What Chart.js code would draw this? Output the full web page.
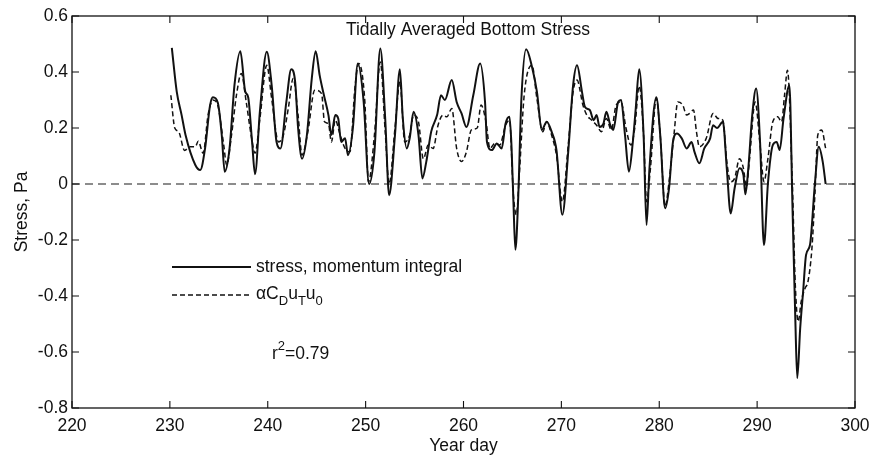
<!DOCTYPE html>
<html lang="en">
<head>
<meta charset="UTF-8">
<title>Tidally Averaged Bottom Stress</title>
<script src="https://cdn.jsdelivr.net/npm/chart.js"></script>
<style>
    body { margin: 0; background: #fff; }
    canvas { display: block; }
</style>
</head>
<body>
<canvas id="stressChart" width="873" height="457"></canvas>
<script>
// stress from momentum integral (solid)
var stressDays = [230.2, 230.7, 231.2, 231.6, 232.6, 233.1, 233.6, 234.1, 234.4, 234.9,
    235.3, 235.6, 236.1, 236.6, 237.2, 237.7, 238.0, 238.4, 238.7, 239.2,
    239.9, 240.4, 240.9, 241.3, 241.9, 242.4, 242.8, 243.1, 243.5, 244.0,
    244.5, 244.9, 245.3, 245.7, 246.2, 246.5, 246.9, 247.2, 247.5, 247.9,
    248.2, 248.7, 249.2, 249.8, 250.35, 250.9, 251.5, 252.0, 252.4, 253.0,
    253.5, 253.8, 254.2, 254.5, 254.9, 255.4, 255.8, 256.2, 256.7, 257.3,
    257.7, 258.1, 258.8, 259.3, 259.8, 260.3, 261.0, 261.7, 262.2, 262.4,
    262.9, 263.4, 263.9, 264.3, 264.7, 264.9, 265.1, 265.3, 265.6, 265.9,
    266.4, 267.0, 267.5, 268.0, 268.5, 269.0, 269.5, 270.1, 270.7, 271.2,
    271.6, 272.1, 272.4, 272.9, 273.3, 273.6, 273.9, 274.3, 274.6, 275.0,
    275.3, 275.8, 276.1, 276.5, 276.9, 277.3, 277.6, 277.95, 278.4, 278.7,
    279.0, 279.7, 280.1, 280.6, 281.0, 281.4, 281.8, 282.3, 282.8, 283.3,
    283.6, 284.1, 284.6, 285.2, 285.5, 285.9, 286.5, 286.9, 287.3, 287.7,
    288.2, 288.6, 288.8, 289.1, 289.5, 289.9, 290.3, 290.7, 291.1, 291.6,
    292.0, 292.3, 292.7, 293.3, 293.6, 293.9, 294.1, 294.4, 294.7, 295.0,
    295.4, 295.9, 296.3, 296.7, 297.0];
var stressVals = [0.486, 0.33, 0.246, 0.175, 0.068, 0.05, 0.128, 0.28, 0.31, 0.29,
    0.175, 0.044, 0.128, 0.353, 0.474, 0.33, 0.31, 0.15, 0.035, 0.26,
    0.472, 0.353, 0.15, 0.127, 0.293, 0.41, 0.365, 0.2, 0.09, 0.175,
    0.377, 0.474, 0.389, 0.323, 0.246, 0.175, 0.246, 0.234, 0.15, 0.163,
    0.103, 0.2, 0.43, 0.293, 0.0, 0.115, 0.484, 0.234, -0.04, 0.175,
    0.41, 0.234, 0.127, 0.163, 0.258, 0.175, 0.02, 0.08, 0.187, 0.246,
    0.317, 0.3, 0.371, 0.293, 0.252, 0.204, 0.317, 0.43, 0.293, 0.15,
    0.121, 0.145, 0.127, 0.216, 0.24, 0.139, -0.063, -0.235, -0.04, 0.293,
    0.481, 0.418, 0.33, 0.193, 0.222, 0.187, 0.121, -0.11, 0.115, 0.353,
    0.424, 0.33, 0.276, 0.264, 0.228, 0.246, 0.204, 0.216, 0.258, 0.21,
    0.193, 0.293, 0.3, 0.175, 0.044, 0.15, 0.27, 0.41, 0.175, -0.146,
    0.056, 0.31, 0.175, -0.087, -0.015, 0.15, 0.18, 0.163, 0.127, 0.15,
    0.115, 0.074, 0.127, 0.163, 0.21, 0.2, 0.222, 0.056, -0.105, -0.015,
    0.056, 0.032, -0.037, 0.056, 0.246, 0.341, 0.15, -0.218, 0.0, 0.139,
    0.15, 0.121, 0.234, 0.353, -0.063, -0.479, -0.693, -0.515, -0.384, -0.253,
    -0.218, 0.0, 0.133, 0.08, 0.0];

// alpha C_D u_T u_0 (dashed)
var modelDays = [230.1, 230.5, 230.9, 231.5, 232.1, 232.6, 232.9, 233.4, 233.9, 234.4,
    234.9, 235.5, 235.8, 236.3, 236.8, 237.3, 237.8, 238.3, 238.7, 239.2,
    239.9, 240.4, 241.1, 241.6, 242.1, 242.6, 243.1, 243.5, 244.1, 244.8,
    245.5, 245.8, 246.2, 246.5, 246.9, 247.4, 247.9, 248.4, 248.9, 249.3,
    249.9, 250.3, 250.9, 251.5, 252.0, 252.4, 253.0, 253.5, 254.0, 254.5,
    254.9, 255.4, 255.9, 256.4, 256.9, 257.4, 257.9, 258.3, 258.8, 259.3,
    259.8, 260.3, 260.8, 261.4, 261.8, 262.3, 262.7, 263.2, 263.7, 264.3,
    264.7, 265.1, 265.4, 265.7, 266.2, 267.0, 267.5, 268.1, 268.5, 269.0,
    269.5, 270.1, 270.7, 271.2, 271.6, 272.2, 272.6, 273.1, 273.6, 274.1,
    274.6, 275.1, 275.6, 276.1, 276.6, 277.1, 277.5, 277.95, 278.4, 278.7,
    279.1, 279.7, 280.1, 280.6, 281.0, 281.5, 281.9, 282.4, 282.8, 283.1,
    283.5, 283.8, 284.1, 284.8, 285.5, 286.0, 286.5, 286.9, 287.3, 287.7,
    288.2, 288.6, 288.9, 289.2, 289.8, 290.3, 290.7, 291.1, 291.6, 292.1,
    292.5, 292.8, 293.1, 293.6, 293.9, 294.2, 294.5, 294.9, 295.2, 295.6,
    295.9, 296.2, 296.6, 297.0];
var modelVals = [0.317, 0.2, 0.187, 0.12, 0.133, 0.133, 0.153, 0.11, 0.246, 0.3,
    0.28, 0.14, 0.068, 0.175, 0.317, 0.395, 0.293, 0.175, 0.11, 0.234,
    0.424, 0.305, 0.15, 0.175, 0.27, 0.377, 0.246, 0.103, 0.187, 0.335,
    0.323, 0.222, 0.216, 0.15, 0.228, 0.175, 0.127, 0.115, 0.341, 0.43,
    0.305, 0.008, 0.175, 0.436, 0.187, 0.0, 0.2, 0.365, 0.15, 0.175,
    0.246, 0.222, 0.09, 0.139, 0.127, 0.21, 0.246, 0.24, 0.27, 0.127,
    0.08, 0.115, 0.193, 0.2, 0.282, 0.222, 0.127, 0.145, 0.139, 0.21,
    0.228, -0.04, -0.11, 0.032, 0.317, 0.424, 0.305, 0.187, 0.222, 0.175,
    0.103, -0.063, 0.139, 0.33, 0.371, 0.282, 0.246, 0.228, 0.21, 0.187,
    0.234, 0.193, 0.282, 0.293, 0.2, 0.139, 0.2, 0.35, 0.175, -0.063,
    0.056, 0.305, 0.175, -0.08, 0.008, 0.175, 0.293, 0.282, 0.246, 0.252,
    0.264, 0.187, 0.133, 0.163, 0.252, 0.234, 0.228, 0.08, 0.008, 0.02,
    0.09, 0.056, -0.01, 0.08, 0.293, 0.139, 0.008, 0.09, 0.222, 0.24,
    0.222, 0.317, 0.406, 0.0, -0.36, -0.491, -0.42, -0.372, -0.348, -0.229,
    -0.04, 0.175, 0.193, 0.127];

var zeroLineDays = [220, 300];
var zeroLineVals = [0, 0];

var xTicks = [220, 230, 240, 250, 260, 270, 280, 290, 300];
var yTicks = [-0.8, -0.6, -0.4, -0.2, 0, 0.2, 0.4, 0.6];

var FONT = "'Liberation Sans', Arial, sans-serif";
var INK = '#111';

function toPoints(days, vals) {
    return days.map(function (d, i) { return { x: d, y: vals[i] }; });
}

// inward ticks, box frame, title and legend text drawn on top
var matlabBox = {
    id: 'matlabBox',
    afterDraw: function (chart) {
        var c = chart.ctx;
        var a = chart.chartArea;
        var xs = chart.scales.x, ys = chart.scales.y;
        c.save();
        c.strokeStyle = INK;
        c.lineWidth = 1.3;
        c.strokeRect(a.left, a.top, a.right - a.left, a.bottom - a.top);

        c.lineWidth = 1.1;
        c.beginPath();
        xTicks.forEach(function (t) {
            var px = xs.getPixelForValue(t);
            c.moveTo(px, a.bottom); c.lineTo(px, a.bottom - 7);
            c.moveTo(px, a.top); c.lineTo(px, a.top + 7);
        });
        yTicks.forEach(function (t) {
            var py = ys.getPixelForValue(t);
            c.moveTo(a.left, py); c.lineTo(a.left + 7, py);
            c.moveTo(a.right, py); c.lineTo(a.right - 7, py);
        });
        c.stroke();

        c.fillStyle = INK;
        c.font = '17.5px ' + FONT;
        c.textBaseline = 'middle';
        c.textAlign = 'center';
        c.fillText('Tidally Averaged Bottom Stress', 468, 30);

        // legend
        c.textAlign = 'left';
        c.lineWidth = 2;
        c.beginPath();
        c.moveTo(172, 267); c.lineTo(251, 267);
        c.stroke();
        c.fillText('stress, momentum integral', 256, 267);

        c.lineWidth = 1.5;
        c.setLineDash([5, 3]);
        c.beginPath();
        c.moveTo(172, 295); c.lineTo(251, 295);
        c.stroke();
        c.setLineDash([]);

        var x = 256, y = 294;
        var parts = [['\u03b1C', 0], ['D', 1], ['u', 0], ['T', 1], ['u', 0], ['0', 1]];
        parts.forEach(function (p) {
            c.font = (p[1] ? '13px ' : '17.5px ') + FONT;
            c.fillText(p[0], x, p[1] ? y + 7 : y);
            x += c.measureText(p[0]).width;
        });

        x = 272; y = 354;
        c.font = '17.5px ' + FONT;
        c.fillText('r', x, y);
        x += c.measureText('r').width;
        c.font = '13px ' + FONT;
        c.fillText('2', x, y - 8);
        x += c.measureText('2').width;
        c.font = '17.5px ' + FONT;
        c.fillText('=0.79', x, y);
        c.restore();
    }
};

var ctx = document.getElementById('stressChart').getContext('2d');
var stressChart = new Chart(ctx, {
    type: 'line',
    data: {
        datasets: [{
            label: 'stress, momentum integral',
            data: toPoints(stressDays, stressVals),
            borderColor: INK,
            borderWidth: 2,
            pointRadius: 0,
            cubicInterpolationMode: 'monotone'
        }, {
            label: '\u03b1CDuTu0',
            data: toPoints(modelDays, modelVals),
            borderColor: INK,
            borderWidth: 1.5,
            borderDash: [5, 3],
            pointRadius: 0,
            cubicInterpolationMode: 'monotone'
        }, {
            label: 'zero',
            data: toPoints(zeroLineDays, zeroLineVals),
            borderColor: '#1a1a1a',
            borderWidth: 1.2,
            borderDash: [8, 5],
            pointRadius: 0
        }]
    },
    options: {
        responsive: false,
        animation: false,
        layout: { padding: { top: 16, right: 18, left: 0, bottom: 0 } },
        plugins: {
            legend: { display: false },
            tooltip: { enabled: false }
        },
        scales: {
            x: {
                type: 'linear',
                min: 220,
                max: 300,
                afterBuildTicks: function (s) { s.ticks = xTicks.map(function (v) { return { value: v }; }); },
                afterFit: function (s) { s.height = 49; s.paddingLeft = 0; s.paddingRight = 0; },
                grid: { display: false, drawTicks: false },
                border: { display: false },
                ticks: { color: INK, padding: 8, font: { family: FONT, size: 17.5 }, maxRotation: 0 },
                title: { display: true, text: 'Year day', color: INK, padding: { top: 0, bottom: 0 }, font: { family: FONT, size: 17.5 } }
            },
            y: {
                min: -0.8,
                max: 0.6,
                afterBuildTicks: function (s) { s.ticks = yTicks.map(function (v) { return { value: v }; }); },
                afterFit: function (s) { s.width = 72; s.paddingTop = 0; s.paddingBottom = 0; },
                grid: { display: false, drawTicks: false },
                border: { display: false },
                ticks: {
                    color: INK, padding: 4, font: { family: FONT, size: 17.5 },
                    callback: function (v) { return v === 0 ? '0' : v.toFixed(1); }
                },
                title: { display: true, text: 'Stress, Pa', color: INK, padding: { top: 12, bottom: 0 }, font: { family: FONT, size: 17.5 } }
            }
        }
    },
    plugins: [matlabBox]
});
</script>
</body>
</html>
